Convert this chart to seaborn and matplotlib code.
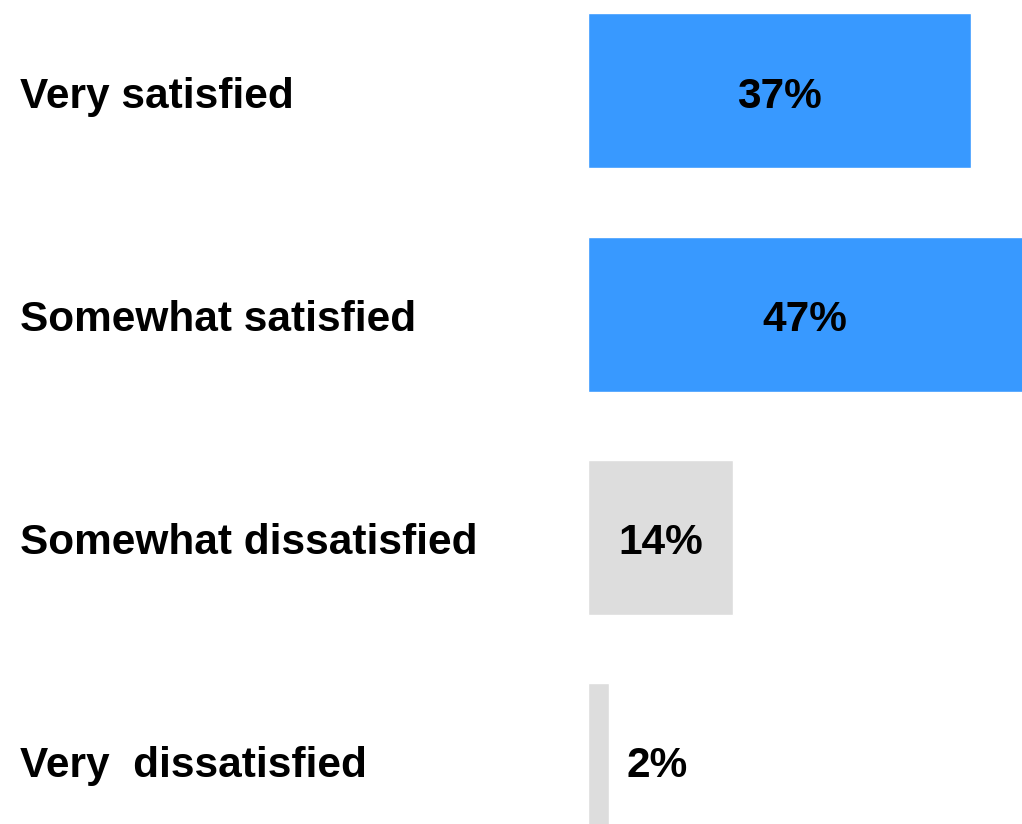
import matplotlib
matplotlib.use("Agg")
import matplotlib.pyplot as plt
import matplotlib.transforms as mtransforms
import seaborn as sns

# data
categories = ["Very satisfied", "Somewhat satisfied", "Somewhat dissatisfied", "Very  dissatisfied"]
values = [37, 47, 14, 2]
bar_colors = ["#3899FF", "#3899FF", "#DDDDDD", "#DDDDDD"]

sns.set_style("white")
plt.rcParams["font.family"] = ["Liberation Sans", "DejaVu Sans"]
plt.rcParams["font.weight"] = "bold"

fig = plt.figure(figsize=(10.22, 8.24), dpi=100)
# axes runs off the top, bottom and right like in the reference
ax = fig.add_axes([588 / 1022, -0.058, 434 / 1022, 1.083])

sns.barplot(x=values, y=categories, hue=categories, palette=bar_colors,
            orient="h", width=0.695, legend=False, saturation=1, ax=ax)

scale = 10.36  # px per percent
ax.set_xlim(0, 434 / scale)
ax.set_ylim(3.5, -0.5)
ax.set_axis_off()

txt = dict(fontsize=30.5, fontweight="bold", color="black", va="center",
           textcoords="offset points")

# category labels, left aligned at the figure edge
trans = mtransforms.blended_transform_factory(fig.transFigure, ax.transData)
for i, cat in enumerate(categories):
    ax.annotate(cat, (20 / 1022, i), xycoords=trans, xytext=(0, -4),
                ha="left", **txt)

# value labels
xmax = ax.get_xlim()[1]
for i, v in enumerate(values):
    if v >= 5:
        ax.annotate(f"{v}%", (min(v, xmax) / 2, i), xytext=(0, -4),
                    ha="center", **txt)
    else:
        ax.annotate(f"{v}%", (v, i), xytext=(13, -4), ha="left", **txt)

fig.savefig("out.png", dpi=100)
